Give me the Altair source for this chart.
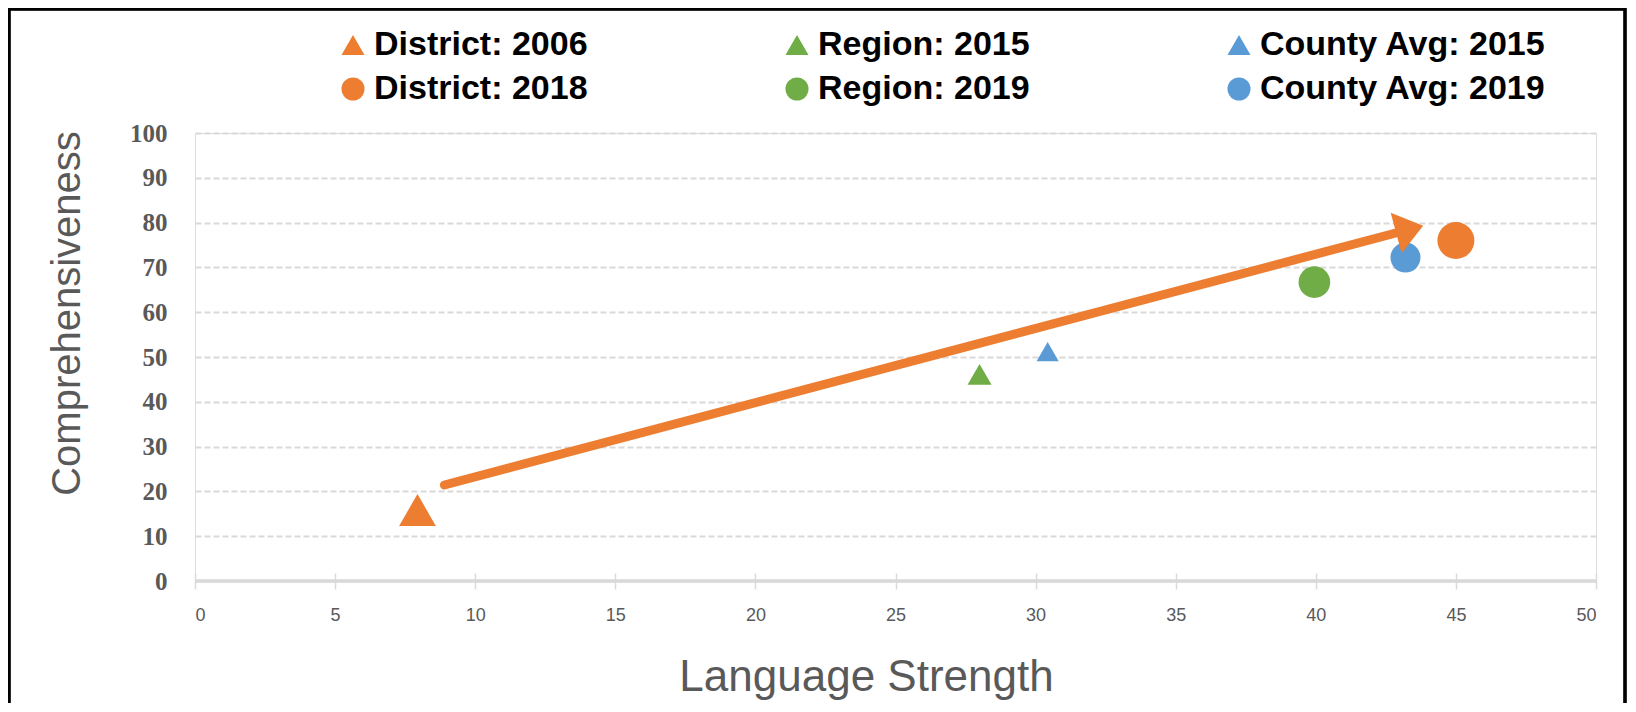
import altair as alt
import pandas as pd

# ---- data (legend order: column by column) ----
series = ["District: 2006", "District: 2018", "Region: 2015",
          "Region: 2019", "County Avg: 2015", "County Avg: 2019"]
lang_strength = [7.94, 45.0, 28.0, 39.95, 30.43, 43.2]
comprehensiveness = [15.85, 76.0, 46.1, 66.7, 51.2, 72.2]

# arrow shaft (start, end) and arrow head position
arrow_x = [8.9, 42.99]
arrow_y = [21.43, 77.9]
head_x = [43.35]
head_y = [78.5]

x_ticks = list(range(0, 51, 5))
y_ticks = list(range(0, 101, 10))

# ---- styles ----
ORANGE, GREEN, BLUE = "#ED7D31", "#70AD47", "#5B9BD5"
colors = [ORANGE, ORANGE, GREEN, GREEN, BLUE, BLUE]
shapes = ["triangle-up", "circle", "triangle-up", "circle", "triangle-up", "circle"]
marker_sizes = [1350, 1370, 576, 1000, 490, 900]
GRAY = "#595959"
W, H = 1401, 448

points = pd.DataFrame({"series": series, "x": lang_strength, "y": comprehensiveness,
                       "msize": marker_sizes})
arrow = pd.DataFrame({"x": arrow_x, "y": arrow_y})
head = pd.DataFrame({"x": head_x, "y": head_y})

xscale = alt.Scale(domain=[0, 50], nice=False, zero=True)
yscale = alt.Scale(domain=[0, 100], nice=False)

x_axis = alt.Axis(values=x_ticks, domain=False, grid=False, offset=-8, tickSize=16,
                  tickColor="#d9d9d9", tickWidth=1.5, labelPadding=17,
                  labelFont="Liberation Sans", labelFontSize=18, labelColor=GRAY,
                  title="Language Strength", titleFont="Liberation Sans", titleFontSize=44,
                  titleFontWeight="normal", titleColor=GRAY, titleX=671, titleY=104,
                  titleAlign="center", titleBaseline="middle")
y_axis = alt.Axis(values=y_ticks, domain=False, ticks=False, grid=True, gridColor="#d9d9d9",
                  gridDash=[6, 3], gridWidth=2, labelPadding=28,
                  labelFont="Liberation Serif", labelFontSize=25, labelFontWeight="bold",
                  labelColor=GRAY, title="Comprehensiveness", titleFont="Liberation Sans",
                  titleFontSize=40, titleFontWeight="normal", titleColor=GRAY, titleAngle=270,
                  titleX=-128, titleY=180, titleAlign="center", titleBaseline="middle")

legend = alt.Legend(title=None, orient="none", legendX=141, legendY=-105, columns=3,
                    columnPadding=192, rowPadding=10, labelFont="Liberation Sans",
                    labelFontSize=34, labelFontWeight="bold", labelColor="#000000",
                    labelLimit=500, symbolSize=530, symbolStrokeWidth=0, labelOffset=4,
                    padding=0)

X = alt.X("x:Q", scale=xscale, axis=x_axis)
Y = alt.Y("y:Q", scale=yscale, axis=y_axis)

frame = alt.Chart(points).mark_rect(fillOpacity=0, stroke="#000000", strokeWidth=2.5).encode(
    x=alt.value(-186), x2=alt.value(1430), y=alt.value(-124), y2=alt.value(640)
)

axis_line = alt.Chart(points).mark_rule(color="#d9d9d9", strokeWidth=2.5).encode(
    x=alt.X(datum=0, scale=xscale, axis=x_axis), x2=alt.X2(datum=50),
    y=alt.Y(datum=0, scale=yscale, axis=y_axis)
)

pts = alt.Chart(points).mark_point(filled=True, opacity=1).encode(
    x=X, y=Y,
    color=alt.Color("series:N", scale=alt.Scale(domain=series, range=colors), legend=legend),
    shape=alt.Shape("series:N", scale=alt.Scale(domain=series, range=shapes), legend=legend),
    size=alt.Size("msize:Q", scale=None),
)

arrow_line = alt.Chart(arrow).mark_line(color=ORANGE, strokeWidth=9, strokeCap="round").encode(
    x=X, y=Y
)
# arrow head: a wide, short triangle pointing along the shaft
arrow_head = alt.Chart(head).mark_point(shape="M-0.667,-1L0.667,0L-0.667,1Z", angle=345,
                                        size=1764, filled=True, color=ORANGE,
                                        opacity=1).encode(x=X, y=Y)

chart = alt.layer(frame, axis_line, pts, arrow_line, arrow_head).properties(
    width=W, height=H,
    autosize=alt.AutoSizeParams(type="none"),
    padding={"left": 187, "top": 125, "right": 31, "bottom": 122},
).configure_view(strokeWidth=0).configure(background="white")

chart.save("out.html", embed_options={"renderer": "svg", "actions": False})
